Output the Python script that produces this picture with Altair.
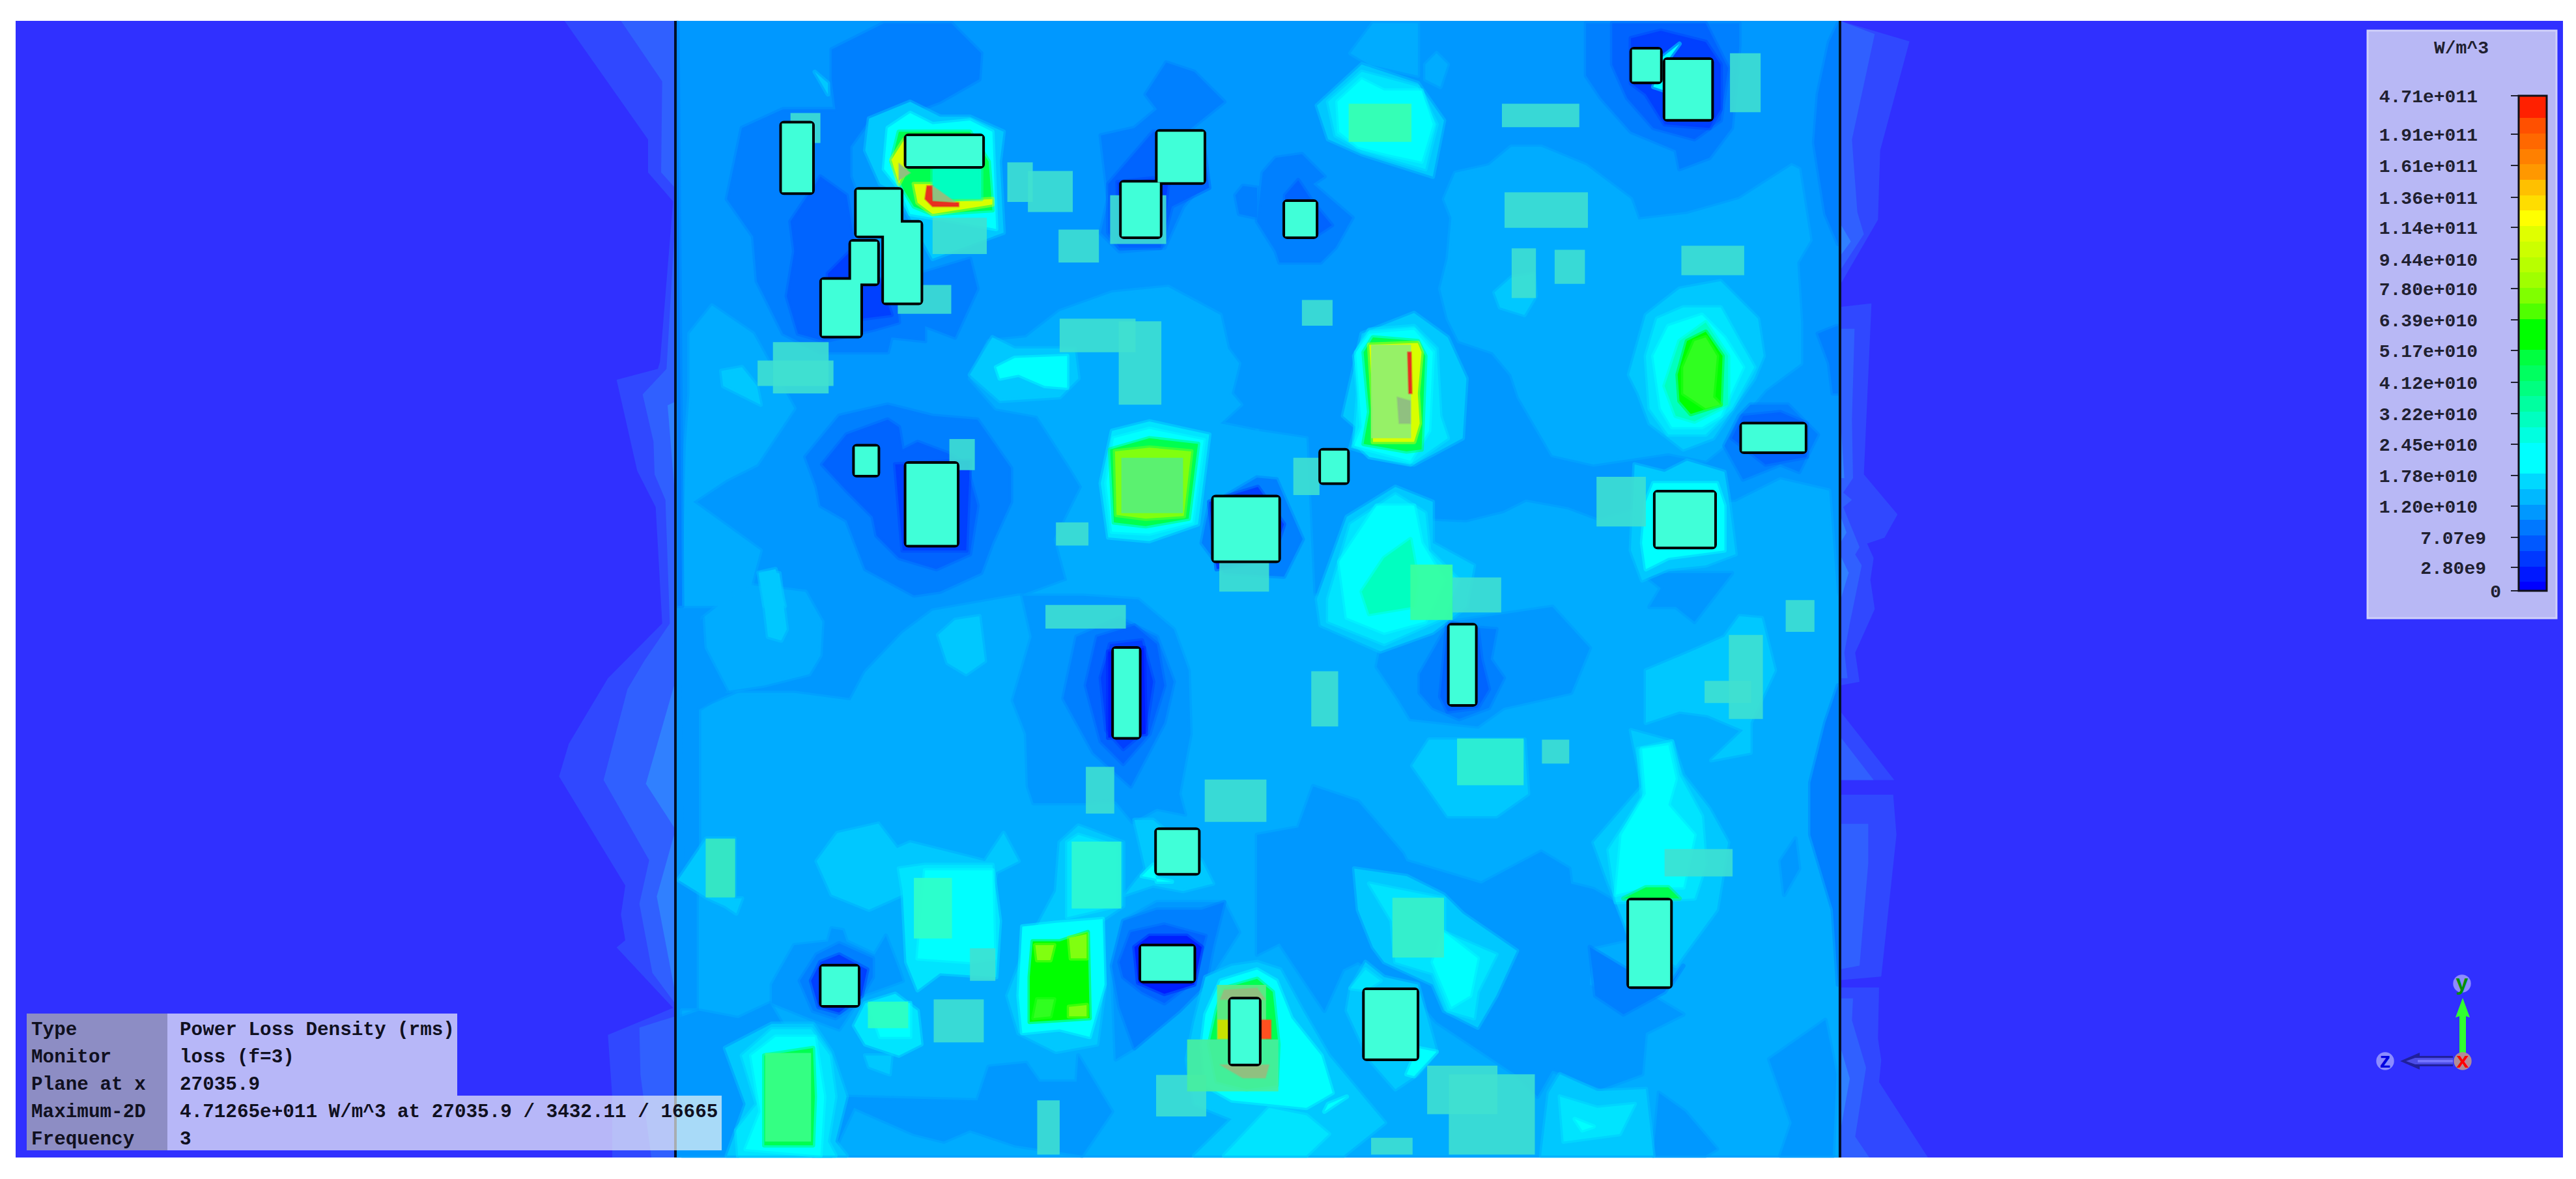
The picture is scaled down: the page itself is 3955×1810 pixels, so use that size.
import altair as alt

W, H = 3955, 1810
SC = 1568 / 900
# crops of the reference: origin of each reading frame
A = (1030, 30, SC, SC)
B = (1930, 30, SC, SC)
C = (1030, 880, SC, SC)
D = (1930, 880, SC, SC)
L = (700, 30, 3, 0.895)
R = (2820, 30, 3, 0.895)
Z = (0, 0, 1, 1)

BLUE = "#3030ff"; S1 = "#3048ff"; S2 = "#3060ff"; S3 = "#3080ff"
C1 = "#0080ff"; C2 = "#0098ff"; C3 = "#00acff"; C4 = "#00c8ff"; C5 = "#00e4ff"; C6 = "#00ffff"
D1 = "#0064ff"; D2 = "#0040ff"; D3 = "#0020ff"
G1 = "#00ffc0"; G2 = "#00ff50"; G3 = "#30ff20"; G4 = "#80ff10"; YL = "#d8ff00"; RD = "#e83020"; GY = "#90c080"

side_polys = [
 (L, S1, [(500,0),(885,165),(885,210),(1000,250),(940,470),(930,480),(740,495),(835,620),(920,670),(950,830),(700,905),(520,995),(475,1040),(780,1190),(760,1230),(780,1265),(740,1275),(1000,1358),(700,1395),(720,1480),(720,1566),(1020,1566),(1020,0)]),
 (L, S2, [(760,0),(950,85),(945,210),(1005,230),(1005,300),(970,480),(860,515),(910,580),(915,625),(965,660),(985,830),(870,880),(790,920),(680,1045),(890,1155),(845,1215),(905,1310),(1005,1350),(1005,1370),(845,1385),(850,1450),(900,1566),(1020,1566),(1020,0)]),
 (L, S3, [(875,1050),(1005,915),(1020,915),(1020,1110),(1005,1110)]),
 (L, S3, [(925,1205),(1005,1120),(1020,1120),(1020,1330),(1005,1330)]),
 (L, S3, [(975,530),(1020,525),(1020,640),(1005,640)]),
 (R, S1, [(15,0),(335,30),(200,180),(190,275),(15,365)]),
 (R, S1, [(15,395),(160,390),(125,625),(280,680),(220,712),(140,720),(170,740),(155,770),(175,810),(85,870),(105,910),(15,915)]),
 (R, S1, [(15,950),(265,1045),(15,1045)]),
 (R, S1, [(15,1065),(260,1065),(275,1120),(205,1315),(15,1320)]),
 (R, S1, [(15,1330),(195,1330),(190,1400),(205,1430),(195,1460),(420,1566),(15,1566)]),
 (R, S2, [(15,0),(175,20),(70,165),(95,265),(125,295),(15,345)]),
 (R, S2, [(15,425),(82,425),(70,550),(75,630),(30,650),(70,660),(30,670),(105,725),(85,735),(115,750),(60,830),(35,870),(50,905),(15,905)]),
 (R, S2, [(15,985),(170,1045),(15,1045)]),
 (R, S2, [(15,1105),(145,1105),(145,1160),(105,1300),(15,1305)]),
 (R, S2, [(15,1345),(75,1345),(70,1375),(135,1440),(85,1535),(150,1566),(15,1566)]),
 (R, S3, [(15,280),(65,305),(15,325)]),
 (R, S3, [(15,540),(35,630),(15,630)]),
 (R, S3, [(15,680),(45,705),(15,720)]),
 (R, S3, [(15,735),(55,760),(15,800)]),
 (R, S3, [(15,1410),(60,1455),(15,1530)]),
]

field_polys = [
 # broad lighter zones
 (A, C3, [(50,840),(110,765),(220,840),(330,1040),(230,1190),(150,1230),(60,1290),(240,1420),(200,1568),(30,1568),(40,1140),(50,1000)]),
 (A, C3, [(1040,780),(1180,730),(1330,715),(1470,790),(1490,880),(1520,920),(1500,1000),(1525,1030),(1470,1080),(1568,1100),(1568,1568),(960,1568),(950,1540),(1060,1500),(1030,1390),(1100,1250),(1070,1200),(980,1060),(870,1040),(800,960),(850,860),(950,850)]),
 (A, C3, [(1568,1100),(1700,1120),(1720,1568),(1568,1568)]),
 (B, C3, [(500,480),(530,410),(620,390),(680,340),(760,340),(880,390),(1000,480),(1020,535),(1150,520),(1290,480),(1430,390),(1450,400),(1480,590),(1445,650),(1455,810),(1455,920),(1360,990),(1300,1060),(1300,1100),(1200,1180),(1100,1160),(900,1190),(790,1165),(700,1010),(680,950),(630,890),(540,860),(510,800),(490,720),(510,640),(520,530)]),
 (B, C3, [(450,1340),(560,1345),(660,1320),(720,1290),(830,1310),(910,1340),(1050,1300),(1280,1290),(1400,1230),(1530,1260),(1560,1568),(1568,1700),(430,1700)]),
 (C, C3, [(75,365),(180,320),(330,320),(480,340),(520,265),(620,160),(700,100),(930,60),(1568,60),(3136,60),(3136,1568),(30,1568),(30,1170),(75,1170)]),
 (C, C3, [(85,120),(200,30),(360,50),(405,130),(400,220),(370,270),(250,300),(150,315),(90,200)]),
 # darker zones
 (A, C1, [(430,80),(570,10),(750,10),(830,90),(825,160),(720,220),(640,250),(530,270),(480,340),(480,420),(560,640),(600,700),(800,640),(820,720),(760,850),(680,820),(680,860),(590,850),(580,890),(400,890),(300,840),(230,700),(220,580),(150,480),(190,290),(300,240),(440,240),(430,160)]),
 (A, C1, [(15,5),(30,1568),(15,1568)]),
 (A, C1, [(1270,200),(1325,115),(1400,140),(1480,220),(1430,260),(1380,300),(1420,330),(1430,430),(1370,500),(1320,610),(1200,620),(1150,570),(1170,480),(1150,310),(1240,290),(1300,240)]),
 (A, C1, [(1510,470),(1530,445),(1568,450),(1568,530),(1520,520)]),
 (A, D1, [(320,540),(400,420),(470,470),(510,700),(600,690),(610,810),(540,830),(410,860),(340,840),(310,740),(330,620)]),
 (A, D2, [(420,680),(490,610),(560,700),(590,790),(510,800),(420,760)]),
 (A, D1, [(1170,440),(1290,300),(1420,300),(1440,450),(1340,500),(1310,610),(1200,610),(1170,570)]),
 (A, D2, [(1195,435),(1290,425),(1330,440),(1310,590),(1200,590)]),
 (A, C1, [(360,1170),(450,1060),(580,1030),(700,1060),(820,1070),(910,1200),(910,1290),(860,1400),(830,1480),(720,1530),(650,1540),(520,1470),(470,1340),(400,1300),(390,1250)]),
 (A, D1, [(405,1190),(470,1110),(580,1070),(610,1090),(620,1150),(660,1130),(740,1160),(790,1190),(820,1300),(800,1430),(710,1470),(610,1440),(550,1380),(540,1330),(470,1260)]),
 (A, D2, [(600,1190),(800,1180),(790,1420),(620,1420)]),
 (A, C1, [(1420,1400),(1440,1300),(1568,1225),(1620,1230),(1690,1390),(1640,1490),(1480,1480)]),
 (A, D2, [(1440,1290),(1570,1250),(1640,1350),(1610,1440),(1460,1470)]),
 (B, C1, [(15,410),(50,370),(120,360),(180,420),(150,440),(255,530),(210,610),(170,650),(60,650),(50,620),(0,540)]),
 (B, D1, [(75,470),(110,430),(150,490),(200,550),(155,580),(75,580)]),
 (B, C1, [(880,10),(1290,10),(1290,70),(1270,290),(1210,370),(1130,400),(1120,350),(1000,300),(920,210),(880,150)]),
 (B, D1, [(950,10),(1200,10),(1260,130),(1240,270),(1170,320),(1060,290),(990,210),(950,120)]),
 (B, D2, [(1000,50),(1080,30),(1200,60),(1240,120),(1240,240),(1210,290),(1090,280),(1040,200),(1000,170)]),
 (B, C1, [(1530,60),(1500,200),(1490,330),(1520,520),(1568,600),(1568,10)]),
 (B, C1, [(1500,840),(1550,820),(1568,820),(1568,1000),(1540,1000),(1530,920)]),
 (B, C1, [(1250,1140),(1290,1060),(1320,1030),(1420,1030),(1500,1110),(1450,1210),(1400,1190),(1300,1230)]),
 (B, D1, [(1270,1120),(1300,1060),(1400,1050),(1470,1080),(1470,1170),(1360,1190)]),
 # middle-lower dark zones
 (C, C2, [(20,190),(85,120),(90,200),(150,315),(75,365),(75,800),(30,800)]),
 (C, C2, [(15,1190),(75,1170),(180,1190),(265,1150),(300,1210),(160,1270),(200,1420),(180,1568),(15,1568)]),
 (C, C2, [(940,60),(965,170),(915,340),(950,430),(955,570),(970,615),(1110,615),(1190,610),(1235,665),(1300,630),(1375,645),(1360,590),(1390,430),(1385,260),(1345,150),(1250,70),(1100,60)]),
 (C, C1, [(1050,335),(1085,170),(1200,120),(1300,170),(1345,290),(1320,400),(1230,570),(1130,480)]),
 (C, D1, [(1110,300),(1140,170),(1240,140),(1300,190),(1320,300),(1280,430),(1210,510),(1150,450)]),
 (C, D2, [(1150,280),(1175,190),(1260,180),(1290,290),(1270,420),(1210,470),(1165,420)]),
 (C, D3, [(1170,210),(1265,200),(1270,430),(1170,440)]),
 (C, C2, [(820,1410),(850,1320),(950,1310),(985,1360),(1085,1360),(1090,1290),(1180,1440),(1100,1568),(920,1530),(800,1490),(730,1520),(650,1500),(490,1430),(430,1568),(380,1568),(440,1400)]),
 (C, C2, [(270,1100),(330,995),(420,985),(430,950),(460,955),(470,985),(545,1020),(575,970),(610,1060),(620,1090),(510,1130),(450,1220),(370,1190),(270,1150)]),
 (C, C1, [(345,1090),(390,1020),(450,990),(540,1030),(540,1080),(500,1150),(440,1190),(380,1170)]),
 (C, D2, [(375,1090),(400,1040),(450,1020),(525,1060),(510,1130),(450,1175),(395,1160)]),
 (C, C2, [(1190,1300),(1180,1050),(1210,930),(1300,880),(1480,880),(1520,960),(1430,1100),(1360,1170),(1240,1270)]),
 (C, C1, [(1180,1050),(1210,930),(1300,900),(1420,900),(1480,880),(1450,1000),(1430,1100),(1360,1170),(1240,1270),(1200,1160)]),
 (C, D1, [(1200,1040),(1230,960),(1320,940),(1430,970),(1400,1090),(1320,1150),(1260,1120),(1210,1080)]),
 (C, D3, [(1240,1000),(1280,970),(1380,970),(1420,1000),(1400,1100),(1320,1125),(1250,1095)]),
 (D, C2, [(0,700),(110,680),(150,570),(270,610),(390,750),(400,770),(600,830),(760,745),(835,790),(840,830),(900,845),(960,880),(990,980),(900,1000),(890,1100),(1000,1150),(1040,1120),(1140,1180),(1040,1230),(1030,1340),(920,1380),(790,1330),(750,1400),(690,1340),(480,1200),(420,1130),(270,1040),(230,1060),(180,1170),(100,1050),(60,990),(0,1020)]),
 (D, C2, [(1050,90),(1080,40),(1030,0),(1270,0),(1170,130),(1120,90)]),
 (D, C2, [(320,250),(330,200),(400,130),(450,140),(790,90),(890,200),(840,320),(660,360),(590,410),(410,390),(380,340)]),
 (D, C1, [(435,270),(510,140),(640,150),(625,230),(660,280),(620,360),(540,390),(470,360),(435,320)]),
 (D, D1, [(490,330),(510,130),(590,150),(600,230),(620,310),(590,360),(510,370)]),
 (D, C1, [(890,1000),(990,1060),(1000,1105),(1105,1105),(1140,1050),(1090,1120),(980,1180),(905,1130)]),
 (D, C2, [(1370,1300),(1520,1195),(1550,1340),(1540,1568),(1400,1568),(1430,1470)]),
 (D, C2, [(1060,1560),(1075,1390),(1145,1440),(1230,1540),(1200,1568)]),
 (D, C2, [(1400,770),(1440,710),(1450,790),(1410,860)]),
 (D, C1, [(1520,400),(1480,560),(1480,700),(1540,900),(1568,1100),(1568,300)]),
 # lit patches: upper left hot area
 (A, C4, [(530,265),(640,220),(720,260),(800,260),(890,300),(880,380),(890,570),(700,640),(640,530),(600,460),(560,440),(520,350)]),
 (A, C6, [(580,290),(640,250),(700,280),(800,270),(860,300),(870,560),(700,530),(640,520),(610,450),(570,400)]),
 (A, G2, [(590,380),(610,300),(800,300),(850,380),(860,510),(700,520),(650,500),(620,450)]),
 (A, YL, [(590,375),(625,320),(625,410),(610,440)]),
 (A, YL, [(650,440),(700,440),(700,490),(860,480),(860,495),(700,520),(660,490)]),
 (A, G1, [(700,400),(830,390),(830,480),(700,480)]),
 (A, C4, [(800,950),(860,850),(920,880),(1080,880),(1090,960),(1040,1010),(880,1020)]),
 (A, C6, [(870,930),(920,905),(1060,900),(1060,985),(1000,980),(930,950),(880,960)]),
 (A, C4, [(190,930),(230,980),(240,1030),(140,980),(135,940)]),
 (A, C4, [(235,1480),(280,1470),(305,1568),(250,1568)]),
 (A, C4, [(385,140),(420,170),(420,200)]),
 # green square hot spot
 (A, C5, [(1150,1240),(1180,1100),(1280,1075),(1440,1110),(1410,1350),(1280,1395),(1170,1385)]),
 (A, C6, [(1165,1240),(1185,1120),(1280,1095),(1425,1125),(1395,1345),(1280,1375),(1180,1370)]),
 (A, G2, [(1175,1150),(1280,1120),(1410,1135),(1385,1335),(1270,1355),(1185,1345)]),
 (A, G4, [(1188,1155),(1280,1145),(1392,1155),(1372,1328),(1270,1335),(1192,1325)]),
 # upper right lit patches
 (B, C3, [(250,90),(310,10),(430,10),(430,150),(300,120)]),
 (B, C3, [(450,120),(480,90),(510,120),(490,180),(450,160)]),
 (B, C4, [(160,230),(280,120),(430,170),(500,270),(470,420),(280,360),(190,320)]),
 (B, C5, [(190,220),(280,140),(430,180),(480,280),(450,400),(280,350),(210,310)]),
 (B, C6, [(215,220),(280,160),(340,190),(440,190),(470,280),(440,380),(350,360),(270,340),(220,300)]),
 (B, C4, [(635,730),(680,690),(740,680),(745,740),(715,790),(650,770)]),
 (B, C6, [(1085,100),(1130,65),(1090,120),(1090,190),(1060,180)]),
 # middle hot spot
 (B, C4, [(230,1060),(280,840),(420,785),(510,850),(560,960),(550,1120),(420,1190),(330,1170),(250,1145),(265,1090)]),
 (B, C5, [(260,900),(300,830),(420,820),(480,880),(490,1060),(510,1120),(410,1190),(300,1170),(260,1130),(270,1000)]),
 (B, C6, [(265,890),(300,840),(420,830),(470,890),(460,1100),(410,1180),(260,1140),(280,1090)]),
 (B, G2, [(285,890),(310,850),(430,860),(450,900),(440,1150),(400,1155),(285,1135),(300,1050)]),
 (B, YL, [(300,870),(430,865),(440,890),(430,1000),(435,1080),(420,1130),(310,1130),(310,1040),(305,950)]),
 # right hot spot
 (B, C4, [(995,950),(1040,790),(1130,720),(1240,700),(1340,800),(1355,900),(1330,960),(1220,1120),(1140,1150),(1050,1080),(1020,1000)]),
 (B, C5, [(1040,900),(1070,800),(1140,770),(1240,770),(1290,860),(1330,930),(1270,1040),(1200,1110),(1100,1110),(1050,1040)]),
 (B, C6, [(1060,900),(1100,820),(1190,790),(1250,850),(1300,930),(1240,1060),(1190,1090),(1110,1090),(1080,1040)]),
 (B, G1, [(1090,980),(1130,860),(1200,810),(1260,900),(1260,1030),(1170,1075),(1120,1060)]),
 (B, "#00ff00", [(1125,950),(1150,860),(1200,835),(1245,900),(1240,1030),(1160,1055),(1130,1020)]),
 (B, G3, [(1140,930),(1170,860),(1200,850),(1230,900),(1220,1010),(1240,1030),(1200,1040),(1140,1000)]),
 # lit area under the large square
 (B, C4, [(160,1550),(240,1330),(370,1250),(470,1290),(470,1400),(580,1460),(560,1570),(470,1640),(330,1690),(170,1620)]),
 (B, C5, [(190,1550),(250,1350),(370,1270),(450,1320),(460,1420),(540,1500),(500,1600),(340,1670),(190,1610)]),
 (B, C6, [(220,1450),(320,1300),(420,1300),(440,1400),(500,1500),(450,1610),(340,1640),(240,1600)]),
 (B, G1, [(280,1530),(340,1440),(410,1390),(430,1500),(420,1570),(300,1590)]),
 (B, C4, [(1010,1190),(1090,1210),(1150,1180),(1250,1210),(1260,1270),(1280,1430),(1200,1460),(1100,1470),(1030,1500),(1000,1420)]),
 (B, C6, [(1040,1290),(1060,1240),(1230,1240),(1250,1300),(1250,1420),(1100,1440),(1040,1470),(1030,1400)]),
 # lower left lit patches
 (C, C4, [(715,165),(760,125),(825,115),(840,235),(790,270),(740,240)]),
 (C, C4, [(240,0),(290,0),(310,150),(295,180),(260,170)]),
 (C, C4, [(390,770),(445,695),(555,670),(605,735),(640,720),(840,770),(890,695),(930,770),(870,800),(860,850),(620,860),(530,900),(430,860)]),
 (C, C4, [(20,820),(95,710),(170,710),(170,870),(190,870),(175,910),(145,890),(100,870)]),
 (C, C5, [(620,850),(610,790),(680,780),(860,780),(880,930),(870,1080),(720,1070),(660,1115),(630,1040)]),
 (C, C6, [(660,1030),(680,795),(860,795),(865,1030),(800,1040)]),
 (C, C4, [(145,1270),(270,1205),(380,1205),(430,1280),(470,1400),(440,1520),(470,1568),(150,1568),(200,1420)]),
 (C, C5, [(190,1290),(270,1220),(375,1220),(425,1290),(440,1400),(420,1520),(440,1568),(180,1568),(175,1490),(230,1420)]),
 (C, C6, [(215,1290),(280,1240),(385,1240),(410,1400),(400,1560),(200,1540),(240,1440)]),
 (C, G2, [(250,1290),(380,1270),(385,1400),(380,1530),(250,1530)]),
 (C, C4, [(520,1290),(590,1290),(585,1340),(530,1320)]),
 (C, C5, [(520,1150),(600,1125),(660,1170),(670,1260),(610,1290),(520,1260),(490,1210)]),
 (C, C6, [(530,1155),(640,1150),(640,1240),(560,1240)]),
 (C, C4, [(1040,720),(1090,675),(1210,720),(1210,890),(1150,930),(1160,1110),(1140,1260),(1030,1280),(930,1230),(900,1130),(950,1000),(1030,850)]),
 (C, C5, [(1060,720),(1090,700),(1190,730),(1190,890),(1060,920)]),
 (C, C6, [(940,945),(1030,935),(1155,925),(1160,1100),(1120,1240),(1040,1220),(940,1230),(930,1130)]),
 (C, "#00ff00", [(968,985),(1040,985),(1115,960),(1120,1190),(1040,1195),(960,1200),(960,1080)]),
 (C, G4, [(975,995),(1025,995),(1015,1035),(980,1035)]),
 (C, G4, [(1065,975),(1112,965),(1112,1030),(1070,1030)]),
 (C, G4, [(1065,1160),(1112,1155),(1112,1185),(1065,1185)]),
 (C, G3, [(980,1140),(1025,1140),(1015,1185),(970,1190)]),
 (C, C4, [(1240,660),(1290,660),(1420,770),(1450,830),(1370,850),(1290,835),(1215,860),(1270,790)]),
 (C, C6, [(1260,810),(1290,780),(1300,825),(1340,825)]),
 # hot spot around the tall box
 (C, C4, [(1400,1200),(1430,1080),(1500,1050),(1568,1040),(1630,1060),(1690,1170),(1760,1290),(1910,1470),(1800,1568),(1400,1568),(1500,1460),(1400,1420),(1380,1300)]),
 (C, C6, [(1430,1180),(1470,1090),(1568,1060),(1620,1090),(1660,1190),(1740,1290),(1770,1390),(1700,1430),(1600,1420),(1500,1410),(1430,1370),(1420,1260)]),
 (C, G2, [(1460,1170),(1480,1110),(1568,1085),(1610,1120),(1625,1260),(1620,1370),(1540,1380),(1460,1360),(1440,1260)]),
 # lower right lit patches
 (D, C4, [(415,515),(460,445),(715,445),(725,590),(640,650),(510,650)]),
 (D, C4, [(1040,260),(1160,210),(1250,170),(1290,115),(1350,120),(1385,260),(1320,400),(1320,480),(1215,500),(1300,420),(1205,380),(1130,370),(1040,400)]),
 (D, C4, [(900,720),(1030,570),(1000,420),(1110,450),(1140,540),(1210,630),(1260,720),(1230,900),(1120,1050),(1000,980),(940,830)]),
 (D, C5, [(940,740),(1030,600),(1020,470),(1110,450),(1130,540),(1190,650),(1200,780),(1170,870),(960,880)]),
 (D, C6, [(975,700),(1040,590),(1030,470),(1100,460),(1120,550),(1100,620),(1170,700),(1140,840),(1040,840),(960,860)]),
 (D, G2, [(980,870),(1040,840),(1100,840),(1130,870)]),
 (D, C4, [(260,790),(400,810),(500,860),(550,910),(695,1010),(640,1130),(590,1215),(500,1170),(470,1100),(340,1040),(310,1000),(270,900)]),
 (D, C5, [(300,830),(500,870),(500,960),(640,1020),(590,1120),(580,1190),(510,1170),(470,1070),(370,1040),(360,930)]),
 (D, C6, [(470,1040),(500,960),(590,1030),(570,1130),(520,1160)]),
 (D, C4, [(250,1110),(290,1040),(340,1080),(430,1100),(480,1280),(430,1340),(370,1380),(300,1300),(240,1170)]),
 (D, C5, [(250,1110),(290,1060),(330,1090),(290,1115)]),
 (D, C6, [(400,1340),(430,1270),(480,1280),(420,1345)]),
 (D, C4, [(780,1390),(810,1340),(910,1385),(1040,1380),(1060,1568),(760,1568)]),
 (D, C5, [(810,1400),(910,1430),(1010,1420),(970,1500),(820,1520)]),
 (D, C6, [(850,1460),(900,1480),(870,1490)]),
 (D, C6, [(190,1420),(240,1400),(180,1440)]),
 (C, C5, [(1480,1568),(1600,1430),(1700,1450),(1760,1500),(1700,1568)]),
]

plain_boxes = [
 (A,320,250,400,330),(A,900,382,968,488),(A,955,405,1075,515),(A,1037,562,1145,650),(A,1175,470,1325,600),
 (A,700,530,845,627),(A,607,710,750,787),(A,1040,800,1243,890),(A,1198,807,1312,1030),(A,232,912,435,980),
 (A,273,863,422,1000),(A,745,1122,813,1205),(A,1030,1345,1117,1407),(A,1467,1453,1600,1530),
 (B,655,225,862,288),(B,1265,90,1347,248),(B,662,462,885,557),(B,681,612,746,745),
 (B,796,616,877,707),(B,1135,605,1303,684),(B,120,750,202,819),(B,97,1172,167,1272),(B,908,1223,1040,1356),
 (B,523,1492,653,1586),
 (C,800,1003,868,1090),(C,703,1140,837,1255),(C,1002,85,1217,148),(C,1110,518,1186,643),(C,1428,552,1593,665),
 (C,980,1410,1040,1555),(C,1298,1342,1432,1453),
 (D,145,262,217,410),(D,762,445,835,509),(D,1262,165,1353,390),(D,1197,288,1322,347),
 (D,1414,72,1491,157),(D,1090,738,1272,811),(D,455,1317,643,1447),(D,513,1340,743,1555),
 (D,305,1510,416,1555),
]

# boxes that sit on bright parts of the field and pick up its hue
tinted_boxes = [
 (A,1205,1172,1370,1320,"#58f078"),(B,245,225,413,327,"#38ffb0"),(B,410,1458,523,1606,"#38ffa0"),
 (B,305,870,412,1120,"#90f070"),(C,93,710,172,867,"#38e8c0"),(C,650,815,752,977,"#30ffc8"),
 (C,252,1283,375,1520,"#38ff88"),(C,527,1146,635,1217,"#30ffc0"),(C,1072,718,1205,897,"#30f8d0"),
 (C,1381,1247,1625,1386,"#48eea0"),(C,1461,1101,1592,1247,"#60e888"),(D,535,442,713,567,"#30f0d0"),
 (D,362,868,500,1028,"#38f0c8"),
]

outlined_boxes = [
 (A,297,278,378,462),(A,630,312,833,392),(A,497,455,615,578),(A,570,543,668,757),(A,482,594,552,706),
 (A,404,696,507,846),(A,1302,300,1425,435),(A,1206,436,1308,580),(A,492,1142,553,1218),(A,630,1188,765,1405),
 (A,1452,1278,1625,1447),(B,75,488,157,580),(B,1003,80,1078,166),(B,1092,108,1215,266),(B,171,1153,241,1238),
 (B,1066,1265,1223,1410),(B,1297,1083,1465,1155),(C,403,1052,500,1155),(C,1185,202,1252,438),(C,1300,687,1410,802),
 (C,1258,998,1398,1090),(C,1497,1140,1573,1312),(D,515,140,583,350),(D,995,875,1105,1105),(D,288,1115,427,1298),
]

top_polys = [
 (A, RD, [(685,445),(700,445),(700,485),(770,490),(770,500),(700,500),(680,480)]),
 (A, GY, [(700,445),(760,488),(702,484)]),
 (A, GY, [(610,385),(640,410),(610,430)]),
 (B, RD, [(403,890),(412,890),(414,1000),(406,1000)]),
 (B, GY, [(375,1010),(410,1020),(410,1080),(380,1080)]),
 (C, GY, [(1470,1140),(1480,1115),(1568,1110),(1590,1140),(1570,1140),(1497,1140)]),
 (C, GY, [(1470,1315),(1600,1315),(1590,1350),(1530,1350)]),
 (C, "#c8e000", [(1463,1195),(1497,1195),(1497,1245),(1463,1245)]),
 (C, "#ff5020", [(1573,1195),(1605,1195),(1605,1245),(1573,1245)]),
]

# frame of the picture
frame_x = [24, 3935]
frame_y = [32, 1777]
field_x = [1037, 2825]

# legend
legend_title = "W/m^3"
legend_labels = ["4.71e+011","1.91e+011","1.61e+011","1.36e+011","1.14e+011","9.44e+010","7.80e+010","6.39e+010",
                 "5.17e+010","4.12e+010","3.22e+010","2.45e+010","1.78e+010","1.20e+010","7.07e9","2.80e9","0"]
legend_ticks = [147,206,254,303,349,398,443,491,538,587,635,682,730,777,825,871,907]
legend_right = [3804]*14 + [3817,3817,3840]
band_colors = ["#ff2000","#ff5000","#ff6800","#ff8000","#ff9800","#ffc000","#ffdd00","#ffff00","#e0ff00","#ccff00","#b8ff00",
               "#a0ff00","#80ff00","#50ff00","#00ff00","#00ff00","#00ff40","#00ff60","#00ff80","#00ffa0","#00ffc0","#00ffe0",
               "#00ffff","#00ffff","#00d8ff","#00b8ff","#0098ff","#0078ff","#0058ff","#0038ff","#0018ff","#0000ff"]
band_edges = [147,181,205,229,252,276,300,323,347,371,395,418,442,466,490,513,537,561,585,608,632,656,680,703,727,751,775,798,822,846,870,893,907]

# info table
table_keys = ["Type","Monitor","Plane at x","Maximum-2D","Frequency"]
table_vals = ["Power Loss Density (rms)","loss (f=3)","27035.9","4.71265e+011 W/m^3 at 27035.9 / 3432.11 / 16665","3"]
table_y = [1580,1622,1664,1706,1748]

# orientation triad
triad_names = ["y","z","x"]
triad_x = [3780,3662,3781]
triad_y = [1510,1629,1629]
triad_fill = ["#8c8cff","#8c8cff","#b08c98"]
triad_text = ["#009000","#0000e0","#ff0000"]
triad_polys = [
 (Z, "#30ff30", [(3776,1620),(3776,1560),(3770,1562),(3781,1532),(3792,1562),(3786,1560),(3786,1620)]),
 (Z, "#20209c", [(3766,1621),(3715,1621),(3715,1616),(3685,1629),(3715,1642),(3715,1637),(3766,1637)]),
 (Z, "#4c4ce8", [(3766,1624),(3708,1624),(3694,1629),(3708,1634),(3766,1634)]),
 (Z, "#7474ff", [(3766,1627),(3712,1627),(3712,1631),(3766,1631)]),
]

XS = alt.Scale(domain=[8, W - 8], range=[0, W - 16], nice=False, zero=False)
YS = alt.Scale(domain=[8, H - 8], range=[0, H - 16], nice=False, zero=False)
xq = lambda f: alt.X(f, type="quantitative", scale=XS, axis=None)
yq = lambda f: alt.Y(f, type="quantitative", scale=YS, axis=None)
x2q = lambda f: alt.X2(f)
y2q = lambda f: alt.Y2(f)


def clip(v, lo, hi):
    return max(lo, min(hi, v))


def real(crop, p, bounds):
    x0, y0, sx, sy = crop
    return [clip(x0 + p[0] / sx, bounds[0], bounds[1]), clip(y0 + p[1] / sy, bounds[2], bounds[3])]


def feature(color, ring):
    return {"type": "Feature", "properties": {"c": color},
            "geometry": {"type": "Polygon", "coordinates": [ring + [ring[0]]]}}


def rect_ring(x0, y0, x1, y1):
    return [[x0, y0], [x1, y0], [x1, y1], [x0, y1]]


field_bounds = (field_x[0] + 3, field_x[1] - 3, frame_y[0] + 3, frame_y[1] - 3)
left_bounds = (frame_x[0], field_x[0], frame_y[0], frame_y[1])
right_bounds = (field_x[1], frame_x[1], frame_y[0], frame_y[1])
all_bounds = (8, W - 8, 8, H - 8)

base = [feature("#ffffff", rect_ring(8, 8, W - 8, H - 8)),
        feature(BLUE, rect_ring(frame_x[0], frame_y[0], frame_x[1], frame_y[1]))]
for crop, col, pts in side_polys:
    b = left_bounds if crop is L else right_bounds
    base.append(feature(col, [real(crop, p, b) for p in pts]))
base.append(feature(C2, rect_ring(field_x[0], frame_y[0], field_x[1], frame_y[1])))

field_feats = [feature(col, [real(crop, p, field_bounds) for p in pts]) for crop, col, pts in field_polys]
top_feats = [feature(col, [real(crop, p, field_bounds) for p in pts]) for crop, col, pts in top_polys]
triad_feats = [feature(col, [real(crop, p, all_bounds) for p in pts]) for crop, col, pts in triad_polys]


def boxes(rows):
    out = []
    for row in rows:
        crop, a, b, c, d = row[:5]
        p = real(crop, (a, b), field_bounds)
        q = real(crop, (c, d), field_bounds)
        item = {"x": p[0], "y": p[1], "x2": q[0], "y2": q[1]}
        if len(row) > 5:
            item["c"] = row[5]
        out.append(item)
    return out


def geo(feats):
    return alt.Chart(alt.Data(values=feats)).mark_geoshape(strokeWidth=0).encode(
        color=alt.Color("properties.c:N", scale=None, legend=None)
    ).project(type="identity")


def geo_soft(feats, width, alpha):
    # edge of each band is feathered with a half-transparent outline of its own colour
    return alt.Chart(alt.Data(values=feats)).mark_geoshape(strokeWidth=width, strokeOpacity=alpha, strokeJoin="round").encode(
        color=alt.Color("properties.c:N", scale=None, legend=None),
        stroke=alt.Stroke("properties.c:N", scale=None, legend=None),
    ).project(type="identity")


def rects(rows, **kw):
    return alt.Chart(alt.Data(values=rows)).mark_rect(**kw).encode(
        x=xq("x"), y=yq("y"), x2=x2q("x2"), y2=y2q("y2"))


def texts(rows, **kw):
    return alt.Chart(alt.Data(values=rows)).mark_text(baseline="middle", **kw).encode(
        x=xq("x"), y=yq("y"), text="t:N")


layers = [geo(base), geo_soft(field_feats, 7, 0.45)]
layers.append(rects(boxes(plain_boxes), color="#40e0d0", opacity=0.88))
layers.append(rects(boxes(tinted_boxes), opacity=0.92).encode(color=alt.Color("c:N", scale=None, legend=None)))
layers.append(geo_soft(top_feats, 3, 0.4))
out_rows = boxes(outlined_boxes)
layers.append(rects(out_rows, color="#40ffd8", opacity=1, stroke="#000000", strokeWidth=8, cornerRadius=3))
layers.append(rects(out_rows, color="#40ffd8", opacity=1))
layers.append(alt.Chart(alt.Data(values=[{"x": v, "y": frame_y[0], "y2": frame_y[1]} for v in field_x]))
              .mark_rule(color="#00102a", strokeWidth=4)
              .encode(x=xq("x"), y=yq("y"), y2=y2q("y2")))

# table panel
layers.append(rects([{"x": 41, "x2": 257, "y": 1556, "y2": 1766}], color="#bcbca7", opacity=0.67))
layers.append(rects([{"x": 257, "x2": 702, "y": 1556, "y2": 1682},
                     {"x": 257, "x2": 1108, "y": 1682, "y2": 1766}], color="#fbfbf5", opacity=0.67))
MONO = "Liberation Mono"
layers.append(texts([{"x": 48, "y": y, "t": t} for y, t in zip(table_y, table_keys)],
                    font=MONO, fontSize=29.3, fontWeight="bold", align="left", color="#101020"))
layers.append(texts([{"x": 276, "y": y, "t": t} for y, t in zip(table_y, table_vals)],
                    font=MONO, fontSize=29.3, fontWeight="bold", align="left", color="#101020"))

# legend panel
layers.append(rects([{"x": 3635, "x2": 3925, "y": 47, "y2": 949}], color="#b8b8f5", stroke="#d0d0fa", strokeWidth=3))
layers.append(texts([{"x": 3779, "y": 74, "t": legend_title}], font=MONO, fontSize=28, fontWeight="bold",
                    align="center", color="#202030"))
layers.append(alt.Chart(alt.Data(values=[{"x": 3855, "x2": 3867, "y": y} for y in legend_ticks]))
              .mark_rule(color="#202030", strokeWidth=2)
              .encode(x=xq("x"), x2=x2q("x2"), y=yq("y")))
layers.append(rects([{"x": 3867, "x2": 3910, "y": band_edges[i], "y2": band_edges[i + 1], "c": band_colors[i]}
                     for i in range(len(band_colors))]).encode(color=alt.Color("c:N", scale=None, legend=None)))
layers.append(rects([{"x": 3867, "x2": 3910, "y": band_edges[0], "y2": band_edges[-1]}],
                    fillOpacity=0, stroke="#101018", strokeWidth=3))
layers.append(texts([{"x": x, "y": y + 2, "t": t} for x, y, t in zip(legend_right, legend_ticks, legend_labels)],
                    font=MONO, fontSize=28, fontWeight="bold", align="right", color="#202030"))

# triad
layers.append(geo(triad_feats))
layers.append(alt.Chart(alt.Data(values=[{"x": a, "y": b, "c": c} for a, b, c in zip(triad_x, triad_y, triad_fill)]))
              .mark_circle(size=750, opacity=1)
              .encode(x=xq("x"), y=yq("y"), color=alt.Color("c:N", scale=None, legend=None)))
layers.append(alt.Chart(alt.Data(values=[{"x": a, "y": b, "t": t, "c": c}
                                         for a, b, t, c in zip(triad_x, triad_y, triad_names, triad_text)]))
              .mark_text(baseline="middle", align="center", font="Liberation Sans", fontSize=34, fontWeight="bold")
              .encode(x=xq("x"), y=yq("y"), text="t:N", color=alt.Color("c:N", scale=None, legend=None)))

chart = alt.layer(*layers).properties(
    width=W - 16, height=H - 16, padding=0,
    autosize=alt.AutoSizeParams(type="none"),
    background="#ffffff",
).configure_view(stroke=None)

chart.save("out.html", embed_options={"renderer": "svg", "actions": False})
